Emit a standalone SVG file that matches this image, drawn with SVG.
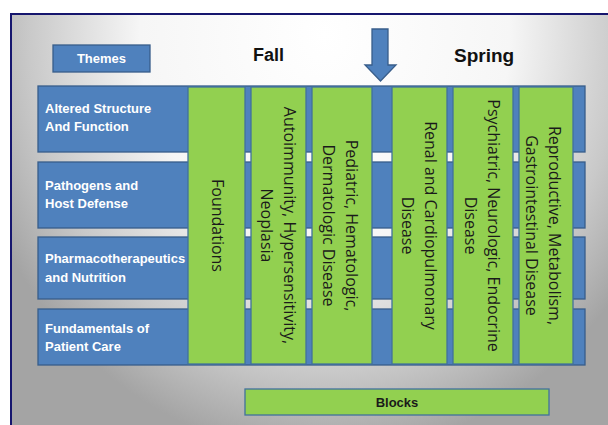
<svg xmlns="http://www.w3.org/2000/svg" width="608" height="425" viewBox="0 0 608 425">
  <defs>
    <radialGradient id="bg" gradientUnits="userSpaceOnUse" cx="0" cy="0" r="1" gradientTransform="translate(325 35) scale(370 420)">
      <stop offset="0" stop-color="#ffffff"/>
      <stop offset="0.5" stop-color="#f6f6f6"/>
      <stop offset="0.8" stop-color="#c9c9c9"/>
      <stop offset="1" stop-color="#a4a4a4"/>
    </radialGradient>
    <style>
      .row { fill: #4F81BD; stroke: #385D8A; stroke-width: 1.3; }
      .col { fill: #92D050; stroke: #41719C; stroke-width: 1.3; }
      .rowtxt { font-family: "Liberation Sans", Arial, sans-serif; font-weight: bold; font-size: 13px; fill: #ffffff; }
      .coltxt { font-family: "Open Sans", "Noto Sans", sans-serif; font-size: 16px; fill: #1a1a1a; text-anchor: middle; }
      .head { font-family: "Liberation Sans", Arial, sans-serif; font-weight: bold; fill: #111111; }
    </style>
  </defs>

  <rect x="0" y="0" width="608" height="425" fill="#ffffff"/>
  <rect id="frame" x="11" y="14" width="620" height="430" fill="url(#bg)" stroke="#16166e" stroke-width="2"/>

  <g id="themes-header">
    <rect class="row" x="53" y="45" width="97" height="27"/>
    <text class="rowtxt" x="101.5" y="63" text-anchor="middle">Themes</text>
  </g>

  <g id="fall-label">
    <text class="head" x="253" y="61" font-size="18">Fall</text>
  </g>
  <g id="spring-label">
    <text class="head" x="454" y="62" font-size="19">Spring</text>
  </g>

  <g id="connectors">
    <path id="arrow-midyear" d="M372 29 H388 V65 H396 L380.5 81 L365 65 H372 Z" fill="#4F81BD" stroke="#385D8A" stroke-width="1.3"/>
  </g>

  <g id="theme-altered">
    <rect class="row" x="38" y="86" width="547" height="66"/>
    <text class="rowtxt" x="45" y="113">Altered Structure</text>
    <text class="rowtxt" x="45" y="131">And Function</text>
  </g>
  <g id="theme-pathogens">
    <rect class="row" x="38" y="162" width="547" height="66"/>
    <text class="rowtxt" x="45" y="190">Pathogens and</text>
    <text class="rowtxt" x="45" y="208">Host Defense</text>
  </g>
  <g id="theme-pharmaco">
    <rect class="row" x="38" y="237" width="547" height="62"/>
    <text class="rowtxt" x="45" y="263">Pharmacotherapeutics</text>
    <text class="rowtxt" x="45" y="282">and Nutrition</text>
  </g>
  <g id="theme-fundamentals">
    <rect class="row" x="38" y="309" width="547" height="56"/>
    <text class="rowtxt" x="45" y="333">Fundamentals of</text>
    <text class="rowtxt" x="45" y="351">Patient Care</text>
  </g>

  <g id="block-foundations">
    <rect class="col" x="188" y="87" width="57" height="277"/>
    <g transform="translate(216.5 225.5) rotate(90)">
      <text class="coltxt" x="0" y="5">Foundations</text>
    </g>
  </g>
  <g id="block-autoimmunity">
    <rect class="col" x="251" y="87" width="55" height="277"/>
    <g transform="translate(277 225.5) rotate(90)">
      <text class="coltxt" x="0" y="-6.5">Autoimmunity, Hypersensitivity,</text>
      <text class="coltxt" x="0" y="16.5">Neoplasia</text>
    </g>
  </g>
  <g id="block-pediatric">
    <rect class="col" x="312" y="87" width="60" height="277"/>
    <g transform="translate(339.5 225.5) rotate(90)">
      <text class="coltxt" x="0" y="-6.5">Pediatric, Hematologic,</text>
      <text class="coltxt" x="0" y="16.5">Dermatologic Disease</text>
    </g>
  </g>
  <g id="block-renal">
    <rect class="col" x="392" y="87" width="55" height="277"/>
    <g transform="translate(418 225.5) rotate(90)">
      <text class="coltxt" x="0" y="-6.5">Renal and Cardiopulmonary</text>
      <text class="coltxt" x="0" y="16.5">Disease</text>
    </g>
  </g>
  <g id="block-psychiatric">
    <rect class="col" x="453" y="87" width="60" height="277"/>
    <g transform="translate(481 225.5) rotate(90)">
      <text class="coltxt" x="0" y="-6.5">Psychiatric, Neurologic, Endocrine</text>
      <text class="coltxt" x="0" y="16.5">Disease</text>
    </g>
  </g>
  <g id="block-reproductive">
    <rect class="col" x="519" y="87" width="54" height="277"/>
    <g transform="translate(542 225.5) rotate(90)">
      <text class="coltxt" x="0" y="-6.5">Reproductive, Metabolism,</text>
      <text class="coltxt" x="0" y="16.5">Gastrointestinal Disease</text>
    </g>
  </g>

  <g id="blocks-legend">
    <rect class="col" x="245" y="389" width="304" height="26"/>
    <text x="397" y="407" text-anchor="middle" font-family="Liberation Sans, Arial, sans-serif" font-weight="bold" font-size="13" fill="#1a1a1a">Blocks</text>
  </g>
</svg>
